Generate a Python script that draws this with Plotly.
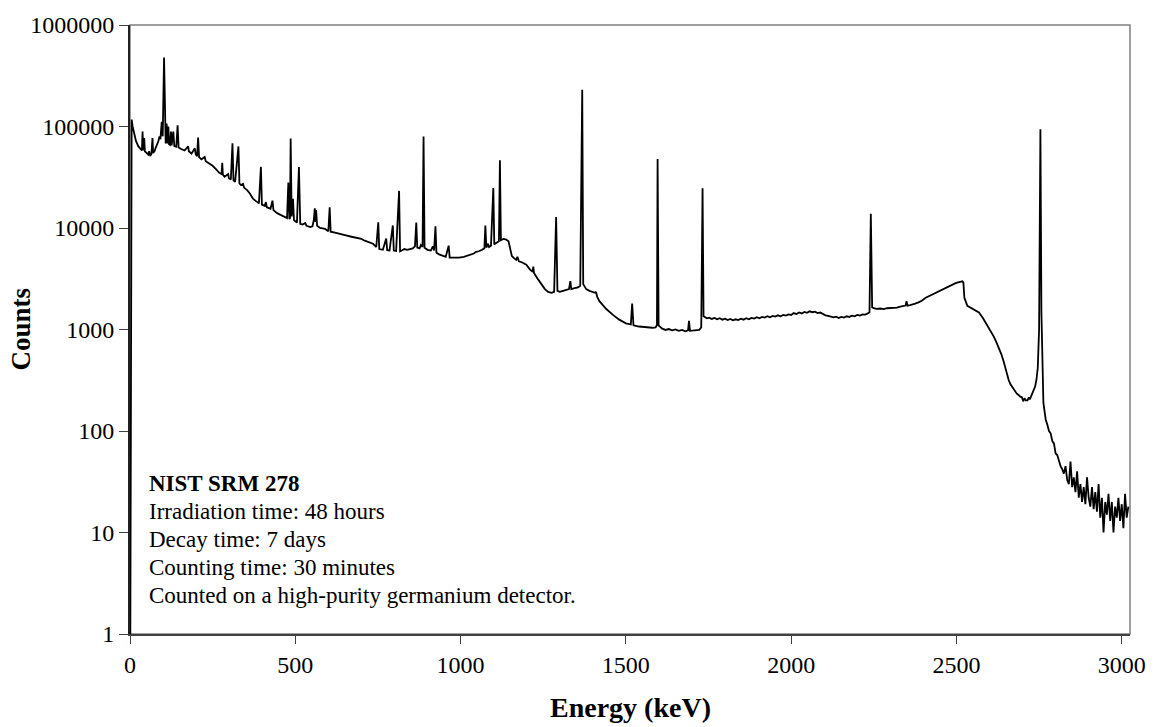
import plotly.graph_objects as go

# ---- data (energy in keV, counts) ----
energy_kev = [
    1, 3, 5, 8, 12, 18, 25, 32, 36, 38, 40, 43, 45, 50, 55, 58, 61, 65, 68, 70, 74, 78, 82, 86, 89, 92,
    96, 99, 103, 106, 108, 111, 113, 116, 118, 121, 124, 126, 131, 134, 140, 144, 147, 155, 165, 176,
    178, 186, 196, 199, 203, 206, 209, 216, 226, 229, 240, 250, 260, 270, 277, 279, 281, 286, 297, 299,
    305, 310, 313, 318, 328, 331, 336, 342, 345, 355, 362, 370, 372, 380, 390, 396, 399, 408, 411, 414,
    425, 431, 434, 445, 455, 465, 475, 479, 482, 484, 486, 489, 493, 496, 505, 511, 515, 522, 530, 534,
    545, 552, 556, 559, 561, 563, 566, 575, 590, 600, 604, 607, 620, 635, 650, 670, 690, 700, 710, 720,
    735, 745, 751, 754, 765, 775, 778, 785, 795, 798, 805, 814, 817, 822, 830, 838, 846, 855, 862, 866,
    869, 876, 880, 885, 888, 891, 900, 910, 916, 920, 924, 927, 935, 945, 955, 964, 967, 980, 995, 1010,
    1025, 1040, 1047, 1055, 1065, 1072, 1075, 1078, 1083, 1086, 1092, 1099, 1102, 1110, 1116, 1119, 1122,
    1130, 1138, 1145, 1150, 1155, 1160, 1168, 1172, 1176, 1185, 1190, 1199, 1210, 1218, 1220, 1222, 1235,
    1246, 1255, 1265, 1275, 1283, 1289, 1293, 1300, 1310, 1320, 1328, 1332, 1335, 1345, 1355, 1362, 1368,
    1371, 1380, 1390, 1400, 1407, 1410, 1413, 1420, 1440, 1460, 1480, 1500, 1515, 1519, 1523, 1540, 1560,
    1580, 1590, 1594, 1596, 1599, 1610, 1620, 1630, 1640, 1650, 1660, 1670, 1680, 1688, 1691, 1694, 1705,
    1715, 1722, 1728, 1732, 1735, 1745, 1752, 1760, 1768, 1776, 1784, 1792, 1800, 1808, 1816, 1824, 1832,
    1840, 1848, 1856, 1864, 1872, 1880, 1888, 1896, 1904, 1912, 1920, 1928, 1936, 1944, 1952, 1960, 1968,
    1976, 1984, 1992, 2000, 2008, 2016, 2024, 2032, 2040, 2048, 2056, 2064, 2072, 2080, 2088, 2096, 2104,
    2112, 2120, 2128, 2136, 2144, 2152, 2160, 2168, 2176, 2184, 2192, 2200, 2208, 2216, 2224, 2232, 2237,
    2241, 2245, 2250, 2258, 2270, 2280, 2290, 2300, 2310, 2320, 2330, 2340, 2346, 2349, 2352, 2360, 2367,
    2375, 2385, 2395, 2407, 2415, 2425, 2432, 2440, 2450, 2458, 2465, 2472, 2480, 2488, 2496, 2502, 2508,
    2514, 2518, 2521, 2524, 2533, 2542, 2550, 2560, 2568, 2580, 2590, 2598, 2605, 2613, 2620, 2628, 2636,
    2643, 2650, 2658, 2663, 2668, 2673, 2678, 2683, 2688, 2693, 2698, 2702, 2706, 2710, 2715, 2719, 2722,
    2726, 2730, 2734, 2738, 2742, 2746, 2750, 2754, 2757, 2760, 2763, 2765, 2770, 2775, 2780, 2785, 2790,
    2795, 2800, 2805, 2810, 2815, 2820, 2825, 2830, 2835, 2840, 2845, 2850, 2855, 2860, 2865, 2870, 2875,
    2880, 2885, 2890, 2895, 2900, 2905, 2910, 2915, 2920, 2925, 2930, 2935, 2940, 2945, 2950, 2955, 2960,
    2965, 2970, 2975, 2980, 2985, 2990, 2995, 3000, 3005, 3010, 3015, 3020,
]
counts = [
    1, 60000, 117000, 100000, 85000, 72000, 64000, 60000, 58000, 89000, 58000, 77000, 57000, 55000, 53000,
    57000, 51000, 54000, 77000, 55000, 57000, 62000, 66000, 72000, 80000, 75000,
    111000, 80000, 477000, 72000, 68000, 107000, 68000, 100000, 67000, 66000, 89000, 65000, 89000, 64000,
    63000, 103000, 62000, 60000, 58000, 63600,
    57000, 54000, 61000, 53000, 51000, 77800, 50000, 47500, 50000, 45500, 43000, 41000, 38000, 35000, 34000,
    43800, 33500, 32000, 34000, 31000,
    30000, 68500, 29500, 28500, 63600, 27500, 26500, 27200, 25000, 23500, 22000, 20000, 19500, 18500, 17500,
    40100, 17000, 16500, 18000, 16000,
    15500, 18600, 15000, 14000, 13500, 13000, 12500, 28000, 12300, 12500, 76200, 13000, 19400, 12000, 11300,
    39800, 11000, 10800, 11200, 10500,
    10200, 10400, 12000, 15600, 11500, 15000, 10500, 10000, 9800, 9300, 16000, 9200, 9000, 8800, 8500, 8200,
    8000, 7800, 7500, 7300,
    7000, 6500, 11400, 6200, 6100, 7870, 6050, 6000, 10600, 6000, 5950, 23200, 5900, 6000, 6200, 6100, 6200,
    6300, 6600, 11300,
    6400, 6300, 6800, 6500, 79600, 6400, 6100, 6000, 6600, 6000, 10400, 5700, 5500, 5300, 5200, 6700, 5100,
    5100, 5100, 5200,
    5400, 5600, 5830, 5900, 6100, 6300, 10600, 6400, 7000, 6500, 6700, 24700, 6900, 7200, 7400, 46600, 7600,
    7800, 7700, 7400, 6200, 5300, 5100, 4850, 5200, 4700, 4600, 4500, 4340, 3900, 3700, 4170, 3600, 3100,
    2770, 2500, 2350, 2300, 2350, 12800, 2400, 2350, 2400, 2450, 2500, 2990, 2500, 2550, 2600, 2700, 230000,
    2800, 2500, 2400, 2350, 2300, 2350, 2100, 1900, 1600, 1400, 1250, 1150, 1120, 1800, 1100, 1070, 1050,
    1040, 1050, 1100, 47900, 1100, 1020, 990, 1010, 980, 1000, 970, 990, 960, 980, 1220, 970, 980,
    1000, 990, 1050, 24700, 1350, 1290, 1310, 1270, 1300, 1260, 1290, 1250, 1280, 1240, 1270, 1230, 1260,
    1240, 1280, 1250, 1290, 1260, 1300, 1280, 1320, 1290, 1330, 1310, 1350, 1320, 1360, 1340, 1380, 1350,
    1390, 1370, 1410, 1390, 1450, 1420, 1470, 1440, 1490, 1460, 1510, 1480, 1500, 1450, 1470, 1410, 1380,
    1360, 1340, 1320, 1340, 1300, 1330, 1310, 1350, 1330, 1370, 1350, 1390, 1370, 1410, 1400, 1440, 1480,
    13800, 1650, 1620, 1600, 1610, 1590, 1620, 1630, 1650, 1640, 1680, 1700, 1720, 1900, 1720, 1740, 1760,
    1800, 1850, 1920, 2055, 2120, 2200, 2250, 2300, 2400, 2480, 2550, 2620, 2700, 2770, 2850, 2900, 2930,
    2960, 2980, 2900, 2055, 1710, 1650, 1600, 1530, 1470, 1300, 1150, 1050, 950, 850, 760, 670, 570,
    480, 390, 318, 290, 274, 255, 240, 232, 227, 218, 215, 196, 210, 200, 200, 215, 205,
    220, 230, 250, 274, 320, 420, 1000, 94000, 1500, 400, 190, 170, 130, 115, 100, 95, 80,
    75, 60, 58, 50, 45, 42, 38, 45, 33, 30, 50, 28, 35, 25, 40, 22, 30,
    20, 28, 19, 35, 22, 18, 28, 17, 25, 16, 30, 14, 22, 10, 20, 15, 24,
    13, 20, 10, 18, 14, 22, 13, 19, 11, 24, 14, 18,
]

x_tick_vals = [0, 500, 1000, 1500, 2000, 2500, 3000]
y_tick_vals = [1, 10, 100, 1000, 10000, 100000, 1000000]
y_tick_text = ["1", "10", "100", "1000", "10000", "100000", "1000000"]

note_lines = [
    "<b>NIST SRM 278</b>",
    "Irradiation time: 48 hours",
    "Decay time: 7 days",
    "Counting time: 30 minutes",
    "Counted on a high-purity germanium detector.",
]

FONT = "Liberation Serif, Times New Roman, serif"

fig = go.Figure()
fig.add_trace(go.Scatter(
    x=energy_kev, y=counts, mode="lines",
    line=dict(color="black", width=1.8),
    hoverinfo="skip", showlegend=False,
))

fig.update_layout(
    width=1160, height=727,
    margin=dict(l=130, r=30, t=17, b=93),
    paper_bgcolor="white", plot_bgcolor="white",
    font=dict(family=FONT, size=24, color="black"),
    showlegend=False,
)
fig.update_xaxes(
    range=[0, 3025], tickvals=x_tick_vals,
    ticks="outside", ticklen=8, tickwidth=1.3, tickcolor="#404040",
    showline=True, linecolor="#404040", linewidth=2, mirror=False,
    showgrid=False, zeroline=False,
    tickfont=dict(family=FONT, size=24, color="black"),
)
fig.update_yaxes(
    type="log", range=[0, 6], tickvals=y_tick_vals, ticktext=y_tick_text,
    ticks="outside", ticklen=9, tickwidth=1.3, tickcolor="#404040",
    showline=True, linecolor="#202020", linewidth=2, mirror=False,
    showgrid=False, zeroline=False,
    tickfont=dict(family=FONT, size=24, color="black"),
)
# gray plot-area border (top/right)
fig.add_shape(type="rect", xref="paper", yref="paper", x0=0, y0=0, x1=1, y1=1,
              line=dict(color="#808080", width=1.5), layer="below")

fig.add_annotation(
    xref="paper", yref="paper", x=-0.11, y=0.5, text="<b>Counts</b>",
    textangle=-90, showarrow=False, font=dict(family=FONT, size=27, color="black"),
    xanchor="center", yanchor="middle",
)
fig.add_annotation(
    xref="paper", yref="paper", x=0.5, y=-0.12, text="<b>Energy (keV)</b>",
    showarrow=False, font=dict(family=FONT, size=28, color="black"),
    xanchor="center", yanchor="middle",
)
# note block: one annotation per line, placed at the reference line centres
plot_top, plot_h = 17, 617
line_centres_px = [482, 510, 538, 567, 595]
for txt, yc in zip(note_lines, line_centres_px):
    fig.add_annotation(
        xref="paper", yref="paper", x=0.017, y=(plot_top + plot_h - yc) / plot_h,
        text=txt, showarrow=False, align="left", xanchor="left", yanchor="middle",
        font=dict(family=FONT, size=23, color="black"),
    )

fig.write_html("out.html")
